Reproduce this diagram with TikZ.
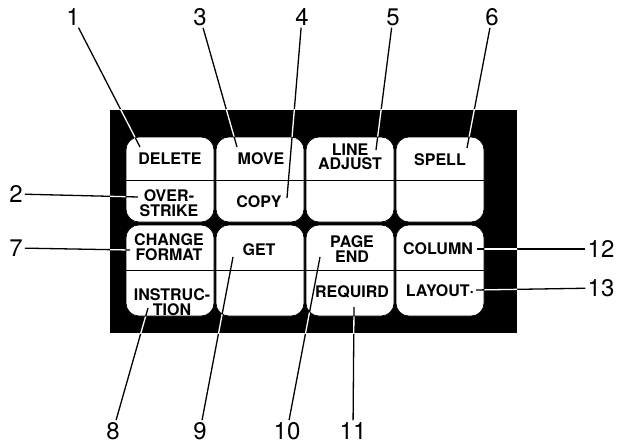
\documentclass[tikz,border=0pt]{standalone}
\usepackage{fontspec}
\setmainfont{TeX Gyre Heros}

% all callout leaders, drawn in the colour given
\newcommand{\drawcallouts}[1]{%
    \foreach \n in {1,...,13} {\draw [leader, draw=#1] (n\n) to (t\n);}%
}

\begin{document}
\begin{tikzpicture}[x=1pt,y=-1pt,
    keytext/.style={font=\fontsize{16}{14.5}\selectfont\bfseries, align=center, inner sep=0pt},
    numlabel/.style={font=\fontsize{24}{24}\selectfont, inner sep=2pt},
    keycap/.style={fill=white, draw=black, line width=0.6pt, rounded corners=13pt},
    leader/.style={line width=1.3pt}]
    \useasboundingbox (0,0) rectangle (619,444);

    % callout numbers
    \node (n1) [numlabel] at (73,17) {1};
    \node (n2) [numlabel] at (16,194) {2};
    \node (n3) [numlabel] at (200,17) {3};
    \node (n4) [numlabel] at (302,17) {4};
    \node (n5) [numlabel] at (393,17) {5};
    \node (n6) [numlabel] at (492,17) {6};
    \node (n7) [numlabel] at (16,248) {7};
    \node (n8) [numlabel] at (113,431) {8};
    \node (n9) [numlabel] at (200,431) {9};
    \node (n10) [numlabel] at (287,431) {10};
    \node (n11) [numlabel] at (353,431) {11};
    \node (n12) [numlabel] at (601,249) {12};
    \node (n13) [numlabel] at (601,288) {13};

    % leader ends on the keys
    \coordinate (t1) at (140,147);
    \coordinate (t2) at (138,197);
    \coordinate (t3) at (237,147);
    \coordinate (t4) at (287,198);
    \coordinate (t5) at (376,150);
    \coordinate (t6) at (467,148);
    \coordinate (t7) at (130,250);
    \coordinate (t8) at (148,308);
    \coordinate (t9) at (233,257);
    \coordinate (t10) at (320,257);
    \coordinate (t11) at (354,307);
    \coordinate (t12) at (477,249);
    \coordinate (t13) at (476,290);

    \fill [black] (110,110) rectangle (517,333);        % keyboard panel
    \drawcallouts{black}
    \begin{scope}                                       % leaders show white on the panel
        \clip (110,110) rectangle (517,333);
        \drawcallouts{white}
    \end{scope}

    % upper row of keys
    \draw [keycap] (126,137) rectangle (214,222);
    \draw [keycap] (216,137) rectangle (304,222);
    \draw [keycap] (306,137) rectangle (394,222);
    \draw [keycap] (396,137) rectangle (484,222);
    % lower row of keys
    \draw [keycap] (126,225) rectangle (214,316);
    \draw [keycap] (216,225) rectangle (304,316);
    \draw [keycap] (306,225) rectangle (394,316);
    \draw [keycap] (396,225) rectangle (484,316);
    \begin{scope}                                       % leaders black again on the keys
        \clip [rounded corners=13pt] (126,137) rectangle (214,222) (216,137) rectangle (304,222)
            (306,137) rectangle (394,222) (396,137) rectangle (484,222)
            (126,225) rectangle (214,316) (216,225) rectangle (304,316)
            (306,225) rectangle (394,316) (396,225) rectangle (484,316);
        \drawcallouts{black}
    \end{scope}
    \draw [-] (126,180) to (484,180);                   % upper split
    \draw [-] (126,270) to (484,270);                   % lower split

    % key legends
    \node (delete) [keytext] at (170,159) {DELETE};
    \node (overstrike) [keytext] at (169,203) {OVER-\\STRIKE};
    \node (move) [keytext] at (261,159) {MOVE};
    \node (copy) [keytext] at (259,202) {COPY};
    \node (lineadjust) [keytext] at (350,157) {LINE\\ADJUST};
    \node (spell) [keytext] at (440,160) {SPELL};
    \node (changeformat) [keytext] at (169,247) {CHANGE\\FORMAT};
    \node (instruction) [keytext] at (172,302) {INSTRUC-\\TION};
    \node (get) [keytext] at (259,250) {GET};
    \node (pageend) [keytext] at (352,249) {PAGE\\END};
    \node (requird) [keytext] at (352,292) {REQUIRD};
    \node (column) [keytext] at (438,249) {COLUMN};
    \node (layout) [keytext] at (440,291) {LAYOUT·};
\end{tikzpicture}
\end{document}
